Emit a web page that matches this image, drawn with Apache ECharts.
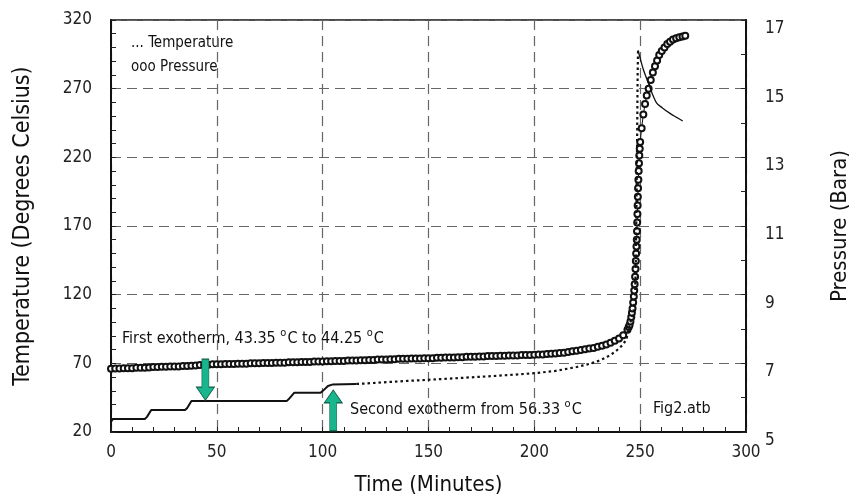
<!DOCTYPE html>
<html>
<head>
<meta charset="utf-8">
<script src="https://cdn.jsdelivr.net/npm/echarts@6/dist/echarts.min.js"></script>
<style>
	html, body { margin: 0; padding: 0; background: #fff; }
	#chart { width: 854px; height: 500px; }
</style>
</head>
<body>
<div id="chart"></div>
<script>
// time (minutes), temperature (deg C) - solid stepped part
var tempEarly = [
	[0, 27.5], [1, 29.5], [16, 29.5], [17, 31], [19, 36], [35, 36], [36, 37.5], [38, 42.5],
	[83, 42.5], [84, 44], [86.5, 48.5], [99, 48.5], [100.5, 50.5], [102.5, 53.5], [104.5, 54.5], [116, 55]
];
// dotted part up to the runaway
var tempRise = [
	[116, 55.0], [120, 55.3], [125, 55.8], [130, 56.3], [140, 57.2], [150, 58.0], [160, 58.9],
	[170, 59.8], [180, 60.7], [190, 61.7], [200, 62.8], [210, 64.5], [220, 67.3], [226, 69.6],
	[230, 71.6], [234, 74.3], [237, 77.2], [240, 80.8], [242, 84], [243.5, 87.5], [245.2, 99],
	[246.8, 106.5], [247.6, 118], [248, 150], [248.3, 190], [248.6, 240], [248.8, 280], [249, 298]
];
// after the peak
var tempLate = [
	[249, 298], [249.6, 294.5], [251.5, 284], [253.9, 274], [255.8, 266], [257.8, 259.5],
	[260.5, 256], [264.1, 252], [267, 249.3], [270.1, 246.5]
];
// time (minutes), pressure (bara)
var pressure = [
	[0, 6.84], [2, 6.85], [4, 6.85], [6, 6.86], [8, 6.86], [10, 6.86], [12, 6.87], [14, 6.87],
	[16, 6.87], [18, 6.88], [20, 6.89], [22, 6.89], [24, 6.90], [26, 6.90], [28, 6.91], [30, 6.91],
	[32, 6.91], [34, 6.92], [36, 6.92], [38, 6.93], [40, 6.94], [42, 6.95], [44, 6.95], [46, 6.96],
	[48, 6.97], [50, 6.97], [52, 6.97], [54, 6.98], [56, 6.98], [58, 6.98], [60, 6.99], [62, 6.99],
	[64, 6.99], [66, 7.00], [68, 7.00], [70, 7.00], [72, 7.01], [74, 7.01], [76, 7.01], [78, 7.02],
	[80, 7.02], [82, 7.02], [84, 7.03], [86, 7.03], [88, 7.03], [90, 7.04], [92, 7.04], [94, 7.04],
	[96, 7.05], [98, 7.05], [100, 7.05], [102, 7.06], [104, 7.06], [106, 7.07], [108, 7.07], [110, 7.07],
	[112, 7.08], [114, 7.08], [116, 7.08], [118, 7.09], [120, 7.09], [122, 7.10], [124, 7.10], [126, 7.11],
	[128, 7.11], [130, 7.11], [132, 7.12], [134, 7.12], [136, 7.13], [138, 7.13], [140, 7.13], [142, 7.14],
	[144, 7.14], [146, 7.14], [148, 7.15], [150, 7.15], [152, 7.15], [154, 7.16], [156, 7.16], [158, 7.17],
	[160, 7.17], [162, 7.17], [164, 7.18], [166, 7.18], [168, 7.19], [170, 7.19], [172, 7.19], [174, 7.20],
	[176, 7.20], [178, 7.21], [180, 7.21], [182, 7.21], [184, 7.22], [186, 7.22], [188, 7.23], [190, 7.23],
	[192, 7.23], [194, 7.24], [196, 7.24], [198, 7.24], [200, 7.25], [202, 7.26], [204, 7.26], [206, 7.27],
	[208, 7.28], [210, 7.29], [212, 7.30], [214, 7.31], [216, 7.33], [218, 7.35], [220, 7.37], [222, 7.39],
	[224, 7.41], [226, 7.43], [228, 7.45], [230, 7.48], [232, 7.51], [234, 7.55], [236, 7.60], [238, 7.66],
	[240, 7.72], [242, 7.82], [244, 7.98], [244.6, 8.06], [245, 8.12], [245.4, 8.22], [245.8, 8.35],
	[246.1, 8.47], [246.4, 8.6], [246.7, 8.77], [247, 8.95], [247.2, 9.12], [247.4, 9.3], [247.6, 9.52],
	[247.8, 9.75], [247.95, 9.98], [248.1, 10.2], [248.25, 10.4], [248.4, 10.6], [248.5, 10.85],
	[248.6, 11.1], [248.7, 11.35], [248.8, 11.6], [248.9, 11.85], [249, 12.1], [249.15, 12.35],
	[249.3, 12.6], [249.45, 12.83], [249.6, 13.05], [249.8, 13.25], [250, 13.45], [250.7, 13.85],
	[251.5, 14.25], [252.3, 14.55], [253.1, 14.8], [254, 15.0], [255, 15.25], [256, 15.47], [257, 15.65],
	[258, 15.82], [259, 15.98], [260.2, 16.1], [261.5, 16.2], [262.8, 16.3], [264.1, 16.37],
	[265.5, 16.43], [267, 16.47], [268.5, 16.5], [270, 16.52], [271.3, 16.54]
];
// arrow positions (time, temperature at arrow centre)
var arrowDown = [44.6, 58.1];
var arrowUp = [105, 35.7];

var FONT = "'Liberation Sans Narrow', 'DejaVu Sans Condensed', 'Roboto', sans-serif";
var arrowPath = 'path://M9,0 L18,13 L12.5,13 L12.5,41 L5.5,41 L5.5,13 L0,13 Z';

var chart = echarts.init(document.getElementById('chart'));

var gridLine = {
	show: true,
	lineStyle: { color: '#666', width: 1.2, type: [10, 6] }
};

var option = {
	animation: false,
	backgroundColor: '#fff',
	grid: {
		left: 111, right: 108, top: 20, bottom: 68,
		show: true, borderColor: '#111', borderWidth: 1.5,
		outerBoundsMode: 'none'
	},
	xAxis: {
		type: 'value', min: 0, max: 300, interval: 50,
		name: 'Time (Minutes)', nameLocation: 'middle', nameGap: 42,
		nameTextStyle: { fontFamily: FONT, fontSize: 22, color: '#111' },
		axisLine: { show: true, lineStyle: { color: '#111', width: 2 } },
		axisTick: { show: true, inside: true, length: 5, lineStyle: { color: '#222' } },
		minorTick: { show: true, splitNumber: 5, length: 5, lineStyle: { color: '#222' } },
		axisLabel: { fontFamily: FONT, fontSize: 17, color: '#222', margin: 12 },
		splitLine: gridLine
	},
	yAxis: [{
		type: 'value', min: 20, max: 320, interval: 50, position: 'left',
		name: 'Temperature (Degrees Celsius)', nameLocation: 'middle', nameGap: 76, nameRotate: 90,
		nameTextStyle: { fontFamily: FONT, fontSize: 23, color: '#111' },
		axisLine: { show: true, lineStyle: { color: '#111', width: 2 } },
		axisTick: { show: true, inside: true, length: 5, lineStyle: { color: '#222' } },
		minorTick: { show: true, splitNumber: 5, length: 5, lineStyle: { color: '#222' } },
		axisLabel: { fontFamily: FONT, fontSize: 17, color: '#222', margin: 19 },
		splitLine: gridLine
	}, {
		type: 'value', min: 5, max: 17, interval: 2, position: 'right',
		name: 'Pressure (Bara)', nameLocation: 'middle', nameGap: 83, nameRotate: 90,
		nameTextStyle: { fontFamily: FONT, fontSize: 22, color: '#111' },
		axisLine: { show: true, lineStyle: { color: '#111', width: 2 } },
		axisTick: { show: true, inside: true, length: 5, lineStyle: { color: '#222' } },
		minorTick: { show: true, splitNumber: 2, length: 5, lineStyle: { color: '#222' } },
		axisLabel: { fontFamily: FONT, fontSize: 17, color: '#222', margin: 19, verticalAlign: 'top' },
		splitLine: { show: false }
	}],
	series: [{
		name: 'Pressure',
		type: 'line',
		yAxisIndex: 1,
		data: pressure,
		symbol: 'emptyCircle',
		symbolSize: 6,
		showAllSymbol: true,
		itemStyle: { color: '#111', borderWidth: 1.3 },
		lineStyle: { color: '#111', width: 1 },
		z: 3
	}, {
		name: 'Temperature',
		type: 'line',
		data: tempEarly,
		showSymbol: false,
		lineStyle: { color: '#111', width: 2 },
		markPoint: {
			symbol: arrowPath,
			symbolSize: [18, 41],
			label: { show: false },
			itemStyle: { color: '#19b58c', borderColor: '#0d5a45', borderWidth: 0.8 },
			data: [
				{ coord: arrowDown, symbolRotate: 180 },
				{ coord: arrowUp, symbolRotate: 0 }
			]
		},
		z: 4
	}, {
		name: 'Temperature rise',
		type: 'line',
		data: tempRise,
		showSymbol: false,
		lineStyle: { color: '#111', width: 2.2, type: [2.5, 3] },
		z: 4
	}, {
		name: 'Temperature late',
		type: 'line',
		data: tempLate,
		showSymbol: false,
		smooth: 0.3,
		lineStyle: { color: '#111', width: 1.3 },
		z: 4
	}],
	graphic: [{
		type: 'text', left: 131, top: 36,
		style: { text: '... Temperature', font: '15px ' + FONT, fill: '#111' }
	}, {
		type: 'text', left: 131, top: 60,
		style: { text: 'ooo Pressure', font: '15px ' + FONT, fill: '#111' }
	}, {
		type: 'text', left: 122, top: 328,
		style: {
			text: '{t|First exotherm, 43.35 }{s|o}{t|C to 44.25 }{s|o}{t|C}',
			rich: {
				t: { fontFamily: FONT, fontSize: 16, fill: '#111' },
				s: { fontFamily: FONT, fontSize: 11, fill: '#111', padding: [0, 1, 10, 0] }
			}
		}
	}, {
		type: 'text', left: 350, top: 399,
		style: {
			text: '{t|Second exotherm from 56.33 }{s|o}{t|C}',
			rich: {
				t: { fontFamily: FONT, fontSize: 16, fill: '#111' },
				s: { fontFamily: FONT, fontSize: 11, fill: '#111', padding: [0, 1, 10, 0] }
			}
		}
	}, {
		type: 'text', left: 653, top: 401,
		style: { text: 'Fig2.atb', font: '16px ' + FONT, fill: '#111' }
	}]
};

chart.setOption(option);
</script>
</body>
</html>
